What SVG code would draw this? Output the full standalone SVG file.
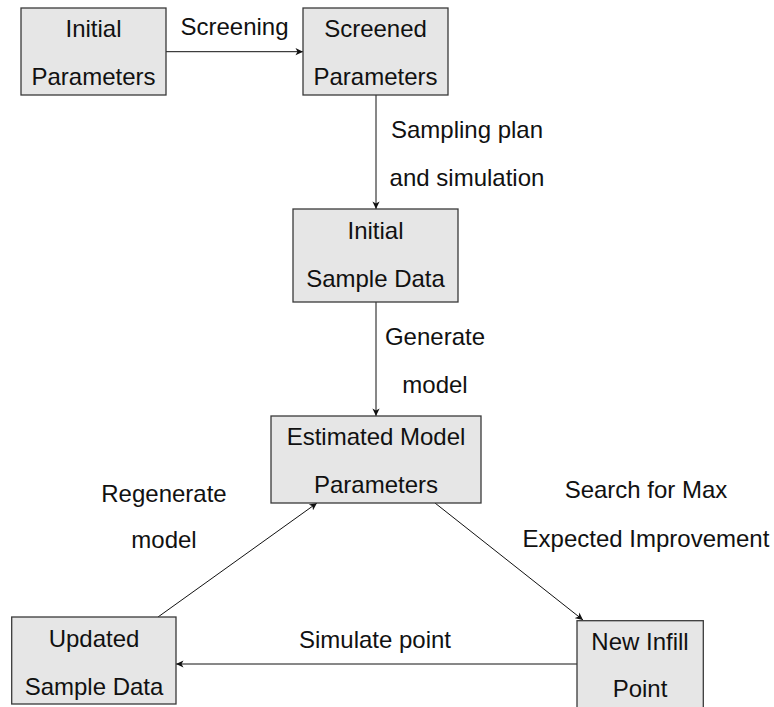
<svg xmlns="http://www.w3.org/2000/svg" width="774" height="707" viewBox="0 0 774 707">
<style>
.box{fill:#e6e6e6;stroke:#3a3a3a;stroke-width:1.3}
text{font-family:"Liberation Sans",Arial,sans-serif;font-size:24px;fill:#111;text-anchor:middle}
.edge{stroke:#111;stroke-width:1;fill:none;marker-end:url(#arr)}
</style>
<defs>
<marker id="arr" viewBox="-8 -4 9 8" refX="0" refY="0" markerWidth="9" markerHeight="8" markerUnits="userSpaceOnUse" orient="auto">
<path d="M0,0 L-7.5,-3.6 L-5.5,0 L-7.5,3.6 z" fill="#111"/>
</marker>
</defs>
<rect width="774" height="707" fill="#fff"/>
<g id="connectors">
<line class="edge" x1="166" y1="51.7" x2="303" y2="51.7"/>
<line class="edge" x1="376" y1="95" x2="376" y2="209"/>
<line class="edge" x1="376" y1="302" x2="376" y2="416"/>
<line class="edge" x1="435" y1="503" x2="583" y2="620"/>
<line class="edge" x1="577" y1="664" x2="176" y2="664"/>
<line class="edge" x1="158" y1="617" x2="317" y2="503"/>
<text x="234.5" y="35">Screening</text>
<text x="467" y="138">Sampling plan</text>
<text x="467" y="186">and simulation</text>
<text x="435" y="345">Generate</text>
<text x="435" y="393">model</text>
<text x="646" y="498">Search for Max</text>
<text x="646" y="547">Expected Improvement</text>
<text x="375" y="648">Simulate point</text>
<text x="164" y="502">Regenerate</text>
<text x="164" y="548">model</text>
</g>
<g id="initial-parameters">
<rect class="box" x="21" y="8" width="145" height="87"/>
<text x="93.5" y="36.7">Initial</text>
<text x="93.5" y="85">Parameters</text>
</g>
<g id="screened-parameters">
<rect class="box" x="303" y="8" width="145" height="87"/>
<text x="375.5" y="36.7">Screened</text>
<text x="375.5" y="85">Parameters</text>
</g>
<g id="initial-sample-data">
<rect class="box" x="293" y="209" width="165" height="93"/>
<text x="375.5" y="238.5">Initial</text>
<text x="375.5" y="287">Sample Data</text>
</g>
<g id="estimated-model-parameters">
<rect class="box" x="271" y="416" width="210" height="87"/>
<text x="376" y="445">Estimated Model</text>
<text x="376" y="492.7">Parameters</text>
</g>
<g id="updated-sample-data">
<rect class="box" x="11.7" y="617" width="164.3" height="87"/>
<text x="94" y="646.7">Updated</text>
<text x="94" y="695">Sample Data</text>
</g>
<g id="new-infill-point">
<rect class="box" x="577" y="620.7" width="126.3" height="87"/>
<text x="640" y="650">New Infill</text>
<text x="640" y="696.7">Point</text>
</g>
</svg>
